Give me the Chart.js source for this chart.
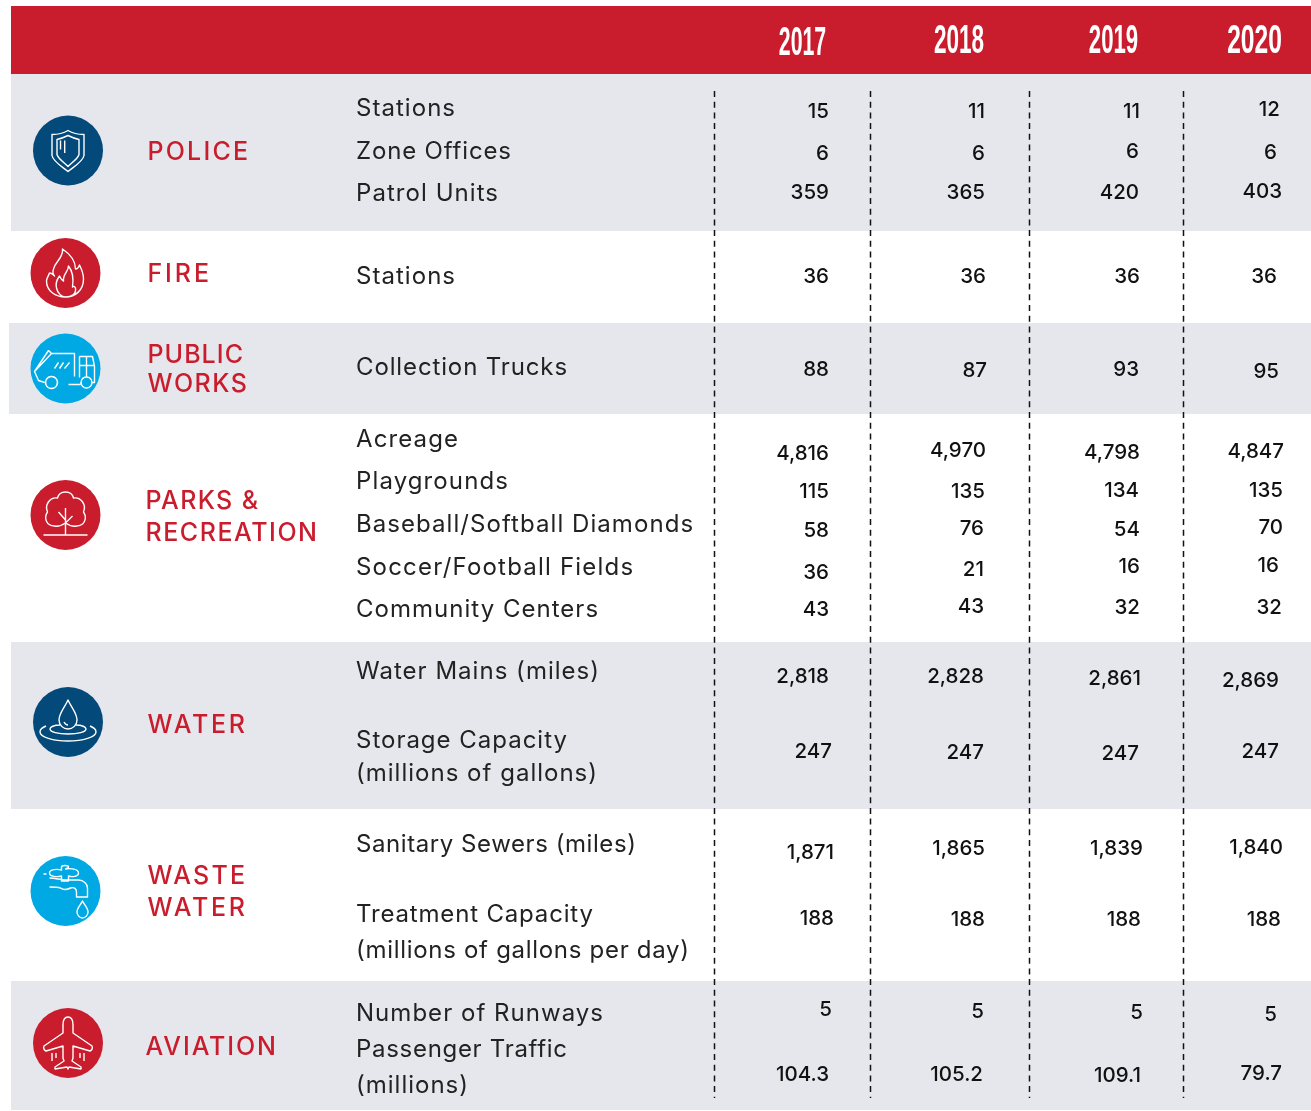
<!DOCTYPE html>
<html>
<head>
<meta charset="utf-8">
<style>
  html, body { margin: 0; padding: 0; background: #fff; }
  canvas { display: block; }
</style>
<script src="https://cdn.jsdelivr.net/npm/chart.js@4"></script>
</head>
<body>
<canvas id="chart" width="1311" height="1111"></canvas>
<script>
// Table content
const years = ['2017', '2018', '2019', '2020'];
const groups = [['POLICE'], ['FIRE'], ['PUBLIC', 'WORKS'], ['PARKS &', 'RECREATION'], ['WATER'], ['WASTE', 'WATER'], ['AVIATION']];
const rowLabels = ['Stations', 'Zone Offices', 'Patrol Units', 'Stations', 'Collection Trucks', 'Acreage', 'Playgrounds',
  'Baseball/Softball Diamonds', 'Soccer/Football Fields', 'Community Centers', 'Water Mains (miles)', 'Storage Capacity',
  '(millions of gallons)', 'Sanitary Sewers (miles)', 'Treatment Capacity', '(millions of gallons per day)',
  'Number of Runways', 'Passenger Traffic', '(millions)'];
const values2017 = ['15', '6', '359', '36', '88', '4,816', '115', '58', '36', '43', '2,818', '247', '1,871', '188', '5', '104.3'];
const values2018 = ['11', '6', '365', '36', '87', '4,970', '135', '76', '21', '43', '2,828', '247', '1,865', '188', '5', '105.2'];
const values2019 = ['11', '6', '420', '36', '93', '4,798', '134', '54', '16', '32', '2,861', '247', '1,839', '188', '5', '109.1'];
const values2020 = ['12', '6', '403', '36', '95', '4,847', '135', '70', '16', '32', '2,869', '247', '1,840', '188', '5', '79.7'];
const yearValues = [values2017, values2018, values2019, values2020];

// Layout, in the units of the two hidden axes
const yearX = [802.5, 959, 1113.5, 1254.5];
const yearY = [44, 42, 42, 42];
const yearStretch = [0.52, 0.55, 0.54, 0.6];
const dividerX = [714.5, 870.5, 1029.5, 1183.5];
const dividerTop = 91, dividerBottom = 1098;
const rowLabelX = 356;
const rowLabelY = [109, 152, 194, 277, 368, 440, 482, 525, 568, 610, 672, 741, 774, 845, 915, 951, 1014, 1050, 1086];
const rowLabelEnd = [455, 511, 498, 455, 567, 458, 508, 693, 633, 598, 599, 567, 597, 636, 593, 689, 603, 567, 468];
const cellRight = [
  [829, 829, 829, 829, 829, 829, 829, 829, 829, 829, 829, 832, 834, 834, 832, 829],
  [985, 985, 985, 986, 987, 986, 985, 984, 984, 984, 984, 984, 985, 985, 984, 983],
  [1140, 1139, 1139, 1140, 1139, 1140, 1139, 1140, 1140, 1140, 1141, 1139, 1143, 1141, 1143, 1141],
  [1280, 1277, 1282, 1277, 1279, 1284, 1283, 1283, 1279, 1282, 1279, 1279, 1283, 1281, 1277, 1282]
];
const cellY = [
  [112, 154, 193, 277, 370, 454, 492, 531, 573, 610, 677, 752, 853, 919, 1010, 1075],
  [112, 154, 193, 277, 371, 451, 492, 529, 570, 607, 677, 753, 849, 920, 1012, 1075],
  [112, 152, 193, 277, 370, 453, 491, 530, 567, 608, 679, 754, 849, 920, 1013, 1076],
  [110, 153, 192, 277, 372, 452, 491, 528, 566, 608, 681, 752, 848, 920, 1015, 1074]
];
const bands = [
  { x0: 11, x1: 1311, y0: 6, y1: 74, color: '#c91c2d' },
  { x0: 11, x1: 1311, y0: 74, y1: 231, color: '#e6e7ec' },
  { x0: 9, x1: 1311, y0: 323, y1: 414, color: '#e6e7ec' },
  { x0: 11, x1: 1311, y0: 642, y1: 809, color: '#e6e7ec' },
  { x0: 11, x1: 1311, y0: 981, y1: 1110, color: '#e6e7ec' }
];
const groupX = [147.5, 147.5, 147.5, 145.5, 147.5, 147.5, 145.5];
const groupY = [[152], [274], [355, 384], [501, 533], [725], [876, 908], [1047]];
const groupEnd = [[248], [209], [243, 247], [258, 317], [245], [245, 245], [276]];
const badgeX = [68, 65.5, 65.5, 65.5, 68, 65.5, 68];
const badgeY = [150.5, 273, 368.5, 515, 722, 891, 1043];
const badgeColors = ['#03497a', '#c91c2d', '#00a8e4', '#c91c2d', '#03497a', '#00a8e4', '#c91c2d'];

// Line icons, drawn around the centre of each badge
const icons = [
  'M0-20C-5-17-10-16-16-16L-16 5C-15 11-6 16 0 21C6 16 15 11 16 5L16-16C10-16 5-17 0-20Z' +
    'M0-15C-4-13-7-12-11-11L-11 4C-10 8-4 12 0 16C4 12 10 8 11 4L11-11C7-12 4-13 0-15Z' +
    'M-7.500-10V-1M-3.300-10V2.500',
  'M-3-24C-2-15-10-12-12-4C-13-1-12 2-11 3C-12 1-15 0-16 0C-17 3-19 5-19 8C-19 18-10 24 0 24C10 24 18 17 18 6C18 1 16-4 14-8C13-5 12-4 10-4C10-13 3-20-3-24Z' +
    'M3-7C3-1-3 1-2 8C-4 7-5 5-6 3C-9 7-10 11-9 15C-8 20-4 24 0 24C6 24 11 21 10 15C9 13 8 13 7 14C8 7 7-2 3-7Z',
  'M-14-15H9V8M-17-18L-14-15L-31 3M-17-18L-31 3L-27 12L-21 14' +
    'M-14 8A6 6 0 1 0-13.999 8' +
    'M21 8.500A5.500 5.500 0 1 0 21.001 8.500' +
    'M14-12H27L29-2V14H27M14-12V9M14-3H29M21-12V9M3 16H15' +
    'M-11 0L-7-6M-6 0L-2-6M-1 0L4-6',
  'M-11 11C-19 11-22 3-18-3C-21-10-16-18-8-17C-6-25 6-25 8-17C16-18 21-10 18-3C22 3 19 11 11 11C7 12 3 10 0 8C-3 10-7 12-11 11Z' +
    'M0-7V20M-7-3L0 5M7 1L0 8M-22 20H22',
  'M0-22C-3-15-9-9-9-2C-9 3-5 7 0 7C5 7 9 3 9-2C9-9 3-15 0-22ZM-4 0C-3 2-2 3 0 3' +
    'M-8 3C-14 3-18 5-18 7C-18 10-10 12 0 12C10 12 18 10 18 7C18 5 14 3 8 3' +
    'M-22 4C-26 6-28 7-28 10C-28 15-15 19 0 19C15 19 28 15 28 10C28 7 26 6 22 4',
  'M-16-13C-10-13-5-11 1-11H13C18-11 22-7 22-3V6H11V1C11-3 8-4 5-3C1-1-2-1-5-3C-8-4-12-4-16-4' +
    'M-16-18C-16-22-8-22-4-21V-24C-4-26 3-26 3-24C3-23 1-23 0-22C5-23 13-22 13-18C13-14 6-14 3-15V-10H-4V-15C-8-14-16-14-16-18Z' +
    'M-22-17H-19M17 10C15 14 11.500 17 11.500 21C11.500 24 14 27 17 27C20 27 22.500 24 22.500 21C22.500 17 19 14 17 10Z',
  'M0-26C-3-26-5-23-5-18V-10L-24 3C-25 5-24 7-22 8L-5 3V15L-4 18L-13 24V26L-1 24L0 26L1 24L13 26V24L4 18L5 15V3L22 8C24 7 25 5 24 3L5-10V-18C5-23 3-26 0-26Z' +
    'M-16 10V18M-12 10V15M16 10V18M12 10V15'
];
const iconPaths = icons.map(d => new Path2D(d));

const bodyFont = '400 24px Inter';
const cellFont = '500 20.5px Inter';
const groupFont = '500 25px Inter';
// measuring happens on a spare context that never has letter spacing set
const measureCtx = document.createElement('canvas').getContext('2d');

function drawText(ctx, text, x, y, font, color, align) {
  ctx.font = font;
  ctx.fillStyle = color;
  ctx.textAlign = align;
  ctx.textBaseline = 'middle';
  ctx.fillText(text, x, y);
}

// Left-aligned text spaced out so that it ends where it ends in the picture
function drawFitted(ctx, text, x, y, endX, font, color) {
  measureCtx.font = font;
  const extra = (endX - x - measureCtx.measureText(text).width) / (text.length - 1);
  ctx.letterSpacing = extra.toFixed(2) + 'px';
  drawText(ctx, text, x, y, font, color, 'left');
  ctx.letterSpacing = '0px';
}

// Bands and header go under the datasets
const bandPlugin = {
  id: 'bands',
  beforeDatasetsDraw(chart) {
    const { ctx, scales: { x, y } } = chart;
    ctx.save();
    bands.forEach(b => {
      ctx.fillStyle = b.color;
      const left = x.getPixelForValue(b.x0), top = y.getPixelForValue(b.y0);
      ctx.fillRect(left, top, x.getPixelForValue(b.x1) - left, y.getPixelForValue(b.y1) - top);
    });
    ctx.restore();
  }
};

// All the text, placed from the dataset points, plus the icons on the badges
const tablePlugin = {
  id: 'tableText',
  afterDatasetsDraw(chart) {
    const { ctx, scales: { x, y } } = chart;
    ctx.save();

    years.forEach((year, i) => {
      ctx.save();
      ctx.translate(x.getPixelForValue(yearX[i]), y.getPixelForValue(yearY[i]));
      ctx.scale(yearStretch[i], 1);
      drawText(ctx, year, 0, 0, '700 41px "Liberation Sans"', '#fff', 'center');
      ctx.restore();
    });

    groups.forEach((lines, i) => {
      lines.forEach((line, j) => {
        drawFitted(ctx, line, x.getPixelForValue(groupX[i]), y.getPixelForValue(groupY[i][j]), x.getPixelForValue(groupEnd[i][j]), groupFont, '#c91c2d');
      });
    });

    rowLabels.forEach((label, i) => {
      drawFitted(ctx, label, x.getPixelForValue(rowLabelX), y.getPixelForValue(rowLabelY[i]), x.getPixelForValue(rowLabelEnd[i]), bodyFont, '#222');
    });

    chart.data.datasets.forEach((ds, d) => {
      if (!ds.cellValues) return;
      chart.getDatasetMeta(d).data.forEach((pt, i) => {
        drawText(ctx, ds.cellValues[i], pt.x, pt.y, cellFont, '#111', 'right');
      });
    });

    const badges = chart.getDatasetMeta(chart.data.datasets.findIndex(ds => ds.isBadges)).data;
    badges.forEach((pt, i) => {
      ctx.save();
      ctx.translate(pt.x, pt.y);
      ctx.strokeStyle = '#fff';
      ctx.lineWidth = 1.4;
      ctx.lineJoin = 'round';
      ctx.stroke(iconPaths[i]);
      ctx.restore();
    });
    ctx.restore();
  }
};

const datasets = [];
dividerX.forEach(dx => {
  datasets.push({
    type: 'line',
    data: [{ x: dx, y: dividerTop }, { x: dx, y: dividerBottom }],
    borderColor: '#111',
    borderWidth: 1.5,
    borderDash: [6, 4.7],
    pointRadius: 0
  });
});
datasets.push({
  type: 'scatter',
  isBadges: true,
  data: badgeX.map((bx, i) => ({ x: bx, y: badgeY[i] })),
  pointRadius: 35,
  pointHoverRadius: 35,
  pointBorderWidth: 0,
  pointBackgroundColor: badgeColors
});
yearValues.forEach((vals, c) => {
  datasets.push({
    type: 'scatter',
    label: years[c],
    cellValues: vals,
    data: vals.map((v, r) => ({ x: cellRight[c][r], y: cellY[c][r] })),
    pointRadius: 0
  });
});

new Chart(document.getElementById('chart').getContext('2d'), {
  data: { datasets },
  plugins: [bandPlugin, tablePlugin],
  options: {
    responsive: false,
    animation: false,
    layout: { padding: 0, autoPadding: false },
    plugins: { legend: { display: false }, tooltip: { enabled: false } },
    scales: {
      x: { type: 'linear', min: 0, max: 1311, display: false },
      y: { type: 'linear', min: 0, max: 1111, reverse: true, display: false }
    }
  }
});
</script>
</body>
</html>
